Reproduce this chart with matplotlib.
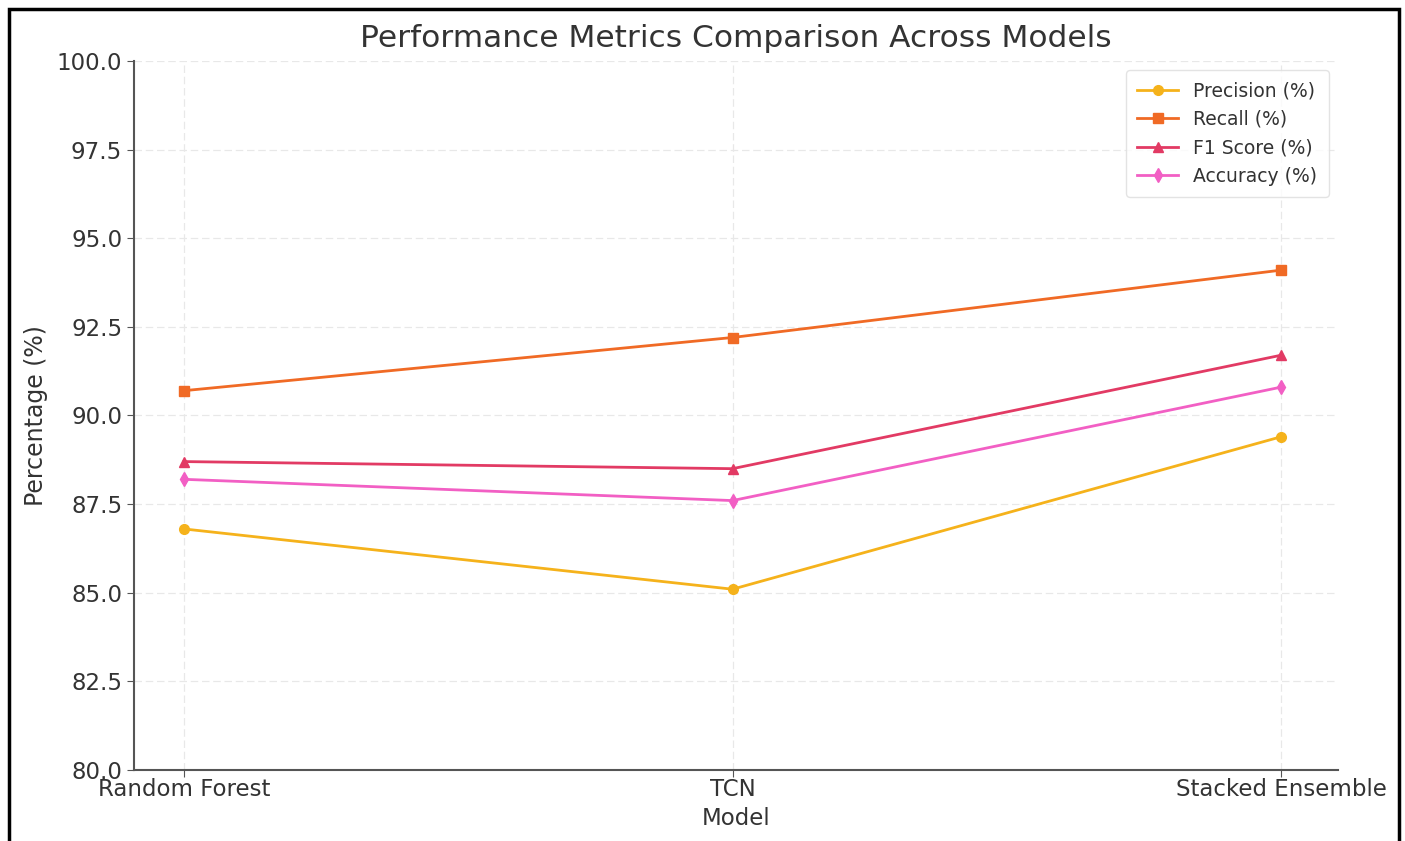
import matplotlib
matplotlib.use("Agg")
import matplotlib.pyplot as plt
from matplotlib.patches import Rectangle

models = ["Random Forest", "TCN", "Stacked Ensemble"]
precision = [86.8, 85.1, 89.4]
recall = [90.7, 92.2, 94.1]
f1 = [88.7, 88.5, 91.7]
accuracy = [88.2, 87.6, 90.8]
yticks = [80.0, 82.5, 85.0, 87.5, 90.0, 92.5, 95.0, 97.5, 100.0]

series = [
    ("Precision (%)", precision, "o", "#F5B21B"),
    ("Recall (%)", recall, "s", "#F06A25"),
    ("F1 Score (%)", f1, "^", "#E23A64"),
    ("Accuracy (%)", accuracy, "d", "#F25FC4"),
]

txt = "#333333"
fig = plt.figure(figsize=(14.05, 8.41), dpi=100)
ax = fig.add_axes([0.0954, 0.0844, 0.857, 0.8431])

x = list(range(len(models)))
for label, vals, m, c in series:
    ax.plot(x, vals, marker=m, color=c, label=label, linewidth=2, markersize=7)

ax.set_ylim(80, 100)
ax.set_xlim(-0.091, 2.104)
ax.set_yticks(yticks)
ax.set_yticklabels([f"{v:.1f}" for v in yticks])
ax.set_xticks(x)
ax.set_xticklabels(models)
ax.grid(True, color="#e8e8e8", linestyle=(0, (6, 3)), linewidth=0.9)
ax.set_axisbelow(True)
for s in ["top", "right"]:
    ax.spines[s].set_visible(False)
for s in ["left", "bottom"]:
    ax.spines[s].set_color("#555555")
    ax.spines[s].set_linewidth(1.5)
ax.tick_params(colors="#555555", labelcolor=txt, labelsize=16.5, length=5)
ax.tick_params(axis="x", pad=1)

ax.set_title("Performance Metrics Comparison Across Models", fontsize=22.5, color=txt, pad=10)
ax.set_xlabel("Model", fontsize=16.5, color=txt, labelpad=4)
ax.set_ylabel("Percentage (%)", fontsize=17, color=txt, labelpad=6)

leg = ax.legend(loc="upper right", fontsize=13.5, frameon=True, labelcolor=txt,
                borderpad=0.6, handlelength=2.2)
leg.get_frame().set_edgecolor("#dddddd")

fig.patches.append(Rectangle((9 / 1405, -0.01), 1390 / 1405, 1 - 9 / 841 + 0.01,
                             transform=fig.transFigure, fill=False,
                             edgecolor="black", linewidth=2.5, zorder=10))

fig.savefig("out.png", dpi=100)
